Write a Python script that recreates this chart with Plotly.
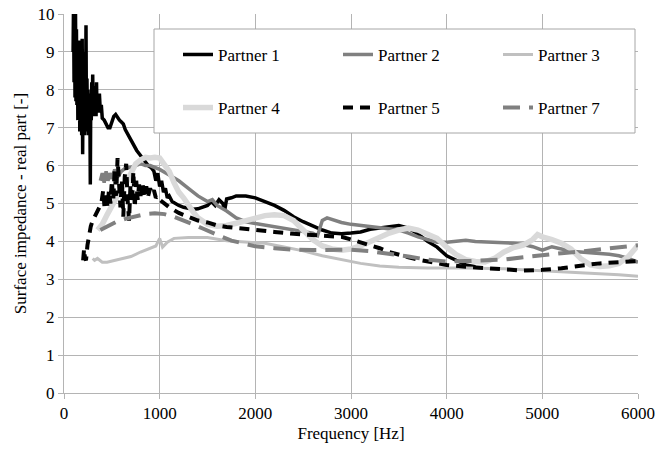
import plotly.graph_objects as go

# ---------------- data ----------------
p1_f = [95, 100, 105, 110, 115, 120, 125, 130, 135, 140, 145, 150, 155, 160, 165, 170, 175, 180, 185, 190,
        195, 200, 205, 210, 215, 220, 225, 230, 235, 240, 245, 250, 255, 260, 265, 270, 275, 280, 285, 290,
        295, 300, 305, 310, 315, 320, 325, 330, 335, 340, 345, 350, 360, 370, 380, 390,
        400, 420, 440, 460, 480, 500, 520, 540, 560, 580, 600, 620, 640, 660, 680, 700, 730, 760, 790,
        820, 850, 880, 910, 940, 960, 980, 1000, 1020, 1040, 1060, 1080, 1100, 1130, 1160, 1200, 1250,
        1300, 1350, 1400, 1450, 1500, 1540, 1580, 1620, 1660, 1680, 1700, 1750, 1800, 1900, 2000, 2100,
        2200, 2300, 2400, 2500, 2600, 2700, 2800, 2900, 3000, 3100, 3200, 3300, 3400, 3500, 3600, 3700,
        3800, 3900, 4000, 4100, 4200, 4300]
p1_v = [9.0, 10.4, 8.2, 10.3, 7.8, 10.2, 7.7, 9.6, 7.6, 9.3, 7.2, 9.0, 7.5, 8.7, 6.9, 9.3, 7.0, 8.8, 6.8, 9.35,
        6.3, 8.6, 7.2, 9.0, 6.8, 8.5, 7.1, 9.7, 6.9, 8.3, 7.0, 8.0, 6.8, 7.8, 7.1, 7.7, 5.5, 7.9, 7.2, 8.2,
        7.3, 8.4, 7.4, 8.1, 7.3, 8.0, 7.4, 7.8, 7.3, 8.2, 7.4, 7.8, 7.4, 7.9, 7.4, 7.6,
        7.25, 7.2, 7.1, 7.0, 7.0, 7.15, 7.3, 7.35, 7.25, 7.2, 7.15, 7.1, 6.95, 6.85, 6.8, 6.7, 6.55, 6.4, 6.3,
        6.2, 6.1, 6.0, 5.95, 5.85, 5.6, 5.8, 5.45, 5.6, 5.3, 5.4, 5.15, 5.2, 5.05, 5.0, 4.95, 4.9,
        4.88, 4.85, 4.86, 4.9, 4.95, 5.05, 4.95, 5.1, 5.0, 4.83, 5.12, 5.15, 5.2, 5.2, 5.15, 5.05,
        4.95, 4.82, 4.65, 4.52, 4.4, 4.3, 4.22, 4.2, 4.22, 4.25, 4.32, 4.36, 4.4, 4.42, 4.35, 4.2,
        4.0, 3.85, 3.62, 3.5, 3.38, 3.33]

p2_f = [380, 400, 420, 440, 460, 480, 500, 530, 560, 600, 650, 700, 750, 800, 850, 900, 950, 1000, 1100,
        1200, 1300, 1400, 1500, 1550, 1600, 1700, 1800, 1900, 2000, 2100, 2200, 2300, 2400, 2500, 2600,
        2650, 2700, 2750, 2800, 2900, 3000, 3100, 3200, 3300, 3400, 3500, 3600, 3700, 3800, 3900, 4000,
        4100, 4200, 4300, 4400, 4500, 4600, 4700, 4800, 4900, 5000, 5100, 5200, 5300, 5400, 5500, 5600,
        5700, 5800, 5900, 6000]
p2_v = [5.6, 5.8, 5.55, 5.85, 5.6, 5.8, 5.65, 5.9, 5.7, 5.85, 5.95, 5.95, 6.0, 6.05, 6.0, 6.0, 5.95, 5.9, 5.75,
        5.6, 5.4, 5.2, 5.05, 5.1, 4.95, 4.8, 4.62, 4.52, 4.47, 4.43, 4.4, 4.36, 4.32, 4.28, 4.22,
        4.15, 4.55, 4.62, 4.58, 4.5, 4.45, 4.42, 4.4, 4.38, 4.35, 4.3, 4.22, 4.12, 4.05, 3.98, 3.98,
        4.0, 4.03, 4.0, 3.99, 3.97, 3.96, 3.95, 3.92, 3.86, 3.77, 3.86, 3.8, 3.74, 3.72, 3.7, 3.69,
        3.66, 3.62, 3.55, 3.45]

p3_f = [300, 320, 350, 400, 450, 500, 600, 700, 800, 900, 960, 1000, 1030, 1080, 1150, 1300, 1500, 1700,
        1900, 2100, 2300, 2500, 2700, 2900, 3100, 3300, 3500, 3800, 4200, 4600, 5000, 5400, 5800, 6000]
p3_v = [3.55, 3.5, 3.55, 3.45, 3.45, 3.48, 3.55, 3.6, 3.72, 3.82, 3.88, 4.08, 3.85, 3.98, 4.08, 4.1, 4.1, 4.02,
        3.98, 3.95, 3.85, 3.75, 3.62, 3.52, 3.42, 3.35, 3.32, 3.3, 3.3, 3.28, 3.23, 3.18, 3.12, 3.08]

p4_f = [350, 400, 450, 500, 550, 600, 650, 700, 750, 800, 850, 900, 950, 1000, 1050, 1100, 1150, 1200,
        1250, 1300, 1350, 1400, 1500, 1600, 1700, 1800, 1900, 2000, 2100, 2200, 2300, 2400, 2500, 2600,
        2700, 2800, 2900, 3000, 3100, 3200, 3300, 3400, 3500, 3600, 3700, 3800, 3900, 4000, 4100, 4200,
        4300, 4400, 4500, 4600, 4700, 4800, 4900, 4950, 5000, 5100, 5200, 5300, 5400, 5500, 5600, 5700,
        5800, 5900, 6000]
p4_v = [4.3, 4.45, 4.7, 4.95, 5.2, 5.4, 5.55, 5.8, 6.05, 6.15, 6.22, 6.2, 6.22, 6.2, 6.05, 5.85, 5.55, 5.3,
        5.15, 4.95, 4.78, 4.62, 4.45, 4.4, 4.42, 4.48, 4.55, 4.63, 4.68, 4.7, 4.68, 4.55, 4.3, 4.05,
        3.88, 3.8, 3.77, 3.8, 3.88, 4.0, 4.12, 4.22, 4.3, 4.35, 4.3, 4.2, 4.08, 3.85, 3.65, 3.52,
        3.47, 3.46, 3.55, 3.72, 3.84, 3.9, 4.05, 4.18, 4.12, 4.05, 3.95, 3.8, 3.55, 3.38, 3.34, 3.36,
        3.42, 3.6, 3.9]

p5_f = [200, 210, 220, 230, 245, 260, 280, 300, 330, 360, 390, 410, 425, 440, 455, 470, 485, 500, 515, 530,
        545, 560, 575, 590, 605, 620, 635, 650, 665, 680, 695, 710, 725, 740, 755, 770, 785, 800, 820, 840,
        860, 880, 900, 920, 940, 960, 980, 1000, 1100, 1200, 1300, 1400, 1500, 1600, 1700, 1800, 1900,
        2000, 2200, 2400, 2600, 2800, 2900, 3000, 3100, 3200, 3300, 3400, 3500, 3600, 3700, 3800, 3900,
        4000, 4200, 4400, 4600, 4800, 5000, 5200, 5400, 5600, 5800, 6000]
p5_v = [3.5, 3.8, 3.55, 3.5, 3.9, 4.15, 4.4, 4.55, 4.7, 4.8, 5.0, 5.35, 4.85, 5.3, 4.9, 5.35, 5.0, 5.6, 5.1, 5.9,
        5.2, 6.2, 5.45, 4.9, 5.6, 4.65, 5.7, 6.05, 5.1, 4.55, 5.5, 5.0, 5.85, 4.9, 5.6, 5.1, 5.5, 5.2, 5.55, 5.15,
        5.45, 5.2, 5.4, 5.25, 5.35, 5.15, 5.2, 5.1, 4.9, 4.75, 4.65, 4.55, 4.5, 4.42, 4.38, 4.35, 4.33,
        4.3, 4.25, 4.2, 4.17, 4.14, 4.12, 4.05, 3.98, 3.9, 3.82, 3.72, 3.64, 3.58, 3.52, 3.47, 3.42,
        3.38, 3.33, 3.3, 3.26, 3.23, 3.25, 3.29, 3.36, 3.42, 3.45, 3.48]

p7_f = [380, 450, 550, 650, 750, 850, 950, 1050, 1150, 1250, 1350, 1450, 1550, 1650, 1750, 1850, 2000, 2200,
        2400, 2600, 2800, 3000, 3200, 3400, 3600, 3800, 4000, 4200, 4400, 4600, 4800, 5000, 5200, 5400,
        5600, 5800, 6000]
p7_v = [4.3, 4.4, 4.52, 4.6, 4.67, 4.72, 4.74, 4.72, 4.65, 4.56, 4.45, 4.34, 4.22, 4.12, 4.02, 3.95, 3.87, 3.82,
        3.78, 3.77, 3.78, 3.78, 3.74, 3.68, 3.6, 3.52, 3.47, 3.48, 3.5, 3.52, 3.58, 3.64, 3.69, 3.73,
        3.79, 3.85, 3.9]

names = ["Partner 1", "Partner 2", "Partner 3", "Partner 4", "Partner 5", "Partner 7"]
x_ticks = [0, 1000, 2000, 3000, 4000, 5000, 6000]
y_ticks = [0, 1, 2, 3, 4, 5, 6, 7, 8, 9, 10]

# ---------------- figure ----------------
FONT = "Liberation Serif"
GRID = "#b4b4b4"

series = [
    (p1_f, p1_v, dict(color="#000000", width=3.5), "legend"),
    (p2_f, p2_v, dict(color="#808080", width=3.5), "legend"),
    (p3_f, p3_v, dict(color="#c0c0c0", width=3), "legend"),
    (p4_f, p4_v, dict(color="#d9d9d9", width=5.5), "legend2"),
    (p5_f, p5_v, dict(color="#000000", width=4, dash="10px,7px"), "legend2"),
    (p7_f, p7_v, dict(color="#808080", width=4, dash="17px,9px"), "legend2"),
]

fig = go.Figure()
for name, (fx, fy, ln, lg) in zip(names, series):
    fig.add_trace(go.Scatter(x=fx, y=fy, mode="lines", name=name, line=ln, legend=lg))

leg_common = dict(orientation="h", entrywidth=115, entrywidthmode="pixels",
                  xanchor="left", x=0.1986, yanchor="middle",
                  bgcolor="rgba(0,0,0,0)", borderwidth=0,
                  font=dict(family=FONT, size=17, color="#000000"))

fig.update_layout(
    width=669, height=450,
    margin=dict(l=64, r=31, t=14, b=57, autoexpand=False),
    paper_bgcolor="white", plot_bgcolor="white",
    font=dict(family=FONT, size=17, color="#000000"),
    showlegend=True,
    legend=dict(y=0.892, **leg_common),
    legend2=dict(y=0.752, **leg_common),
    xaxis=dict(range=[0, 6000], tickvals=x_ticks, ticks="outside", ticklen=5, tickcolor=GRID,
               showgrid=True, gridcolor=GRID, gridwidth=1, showline=True, linecolor=GRID,
               zeroline=False, tickfont=dict(family=FONT, size=17),
               title=dict(text="Frequency [Hz]", font=dict(family=FONT, size=17), standoff=4)),
    yaxis=dict(range=[0, 10], tickvals=y_ticks, ticks="outside", ticklen=5, tickcolor=GRID,
               showgrid=True, gridcolor=GRID, gridwidth=1, showline=True, linecolor=GRID,
               zeroline=False, tickfont=dict(family=FONT, size=17),
               title=dict(text="Surface impedance - real part [-]", font=dict(family=FONT, size=17),
                          standoff=6)),
    shapes=[dict(type="rect", xref="paper", yref="paper", x0=0.1568, x1=0.9948, y0=0.686, y1=0.9604,
                 line=dict(color="#a6a6a6", width=1), fillcolor="white", layer="above")],
)

fig.write_html("out.html")
